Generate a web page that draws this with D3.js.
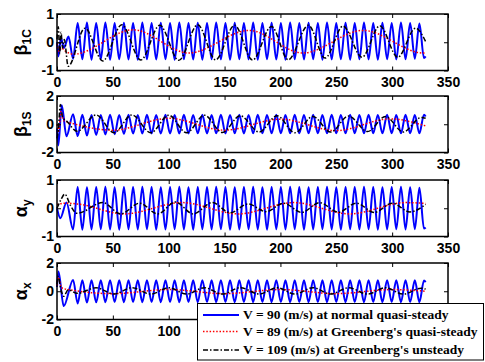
<!DOCTYPE html>
<html>
<head>
<meta charset="utf-8">
<script src="https://cdn.jsdelivr.net/npm/d3@7"></script>
<style>
  body { margin: 0; background: #fff; }
  svg { display: block; }
</style>
</head>
<body>
<script>
// values (time on x)
const xTicks = [0, 50, 100, 150, 200, 250, 300, 350];
const yTicks12 = [-1, 0, 1];
const yTicks2 = [-2, 0, 2];

// extrema times of the fast (blue) oscillation
const blueT = [14.4, 18.5, 22.7, 26.8, 30.9, 35.1, 39.2, 43.3, 47.5, 51.6,
  55.7, 59.9, 64.0, 68.1, 72.3, 76.4, 80.5, 84.7, 88.8, 92.9,
  97.1, 101.2, 105.3, 109.5, 113.6, 117.7, 121.9, 126.0, 130.1, 134.3,
  138.4, 142.5, 146.7, 150.8, 154.9, 159.1, 163.2, 167.3, 171.5, 175.6,
  179.7, 183.9, 188.0, 192.1, 196.3, 200.4, 204.5, 208.7, 212.8, 216.9,
  221.1, 225.2, 229.3, 233.5, 237.6, 241.7, 245.9, 250.0, 254.1, 258.3,
  262.4, 266.5, 270.7, 274.8, 278.9, 283.1, 287.2, 291.3, 295.5, 299.6,
  303.7, 307.9, 312.0, 316.1, 320.3, 324.4, 328.5, 330.0];

// beta 1C
const blueHead1 = [[0, 0.0], [1.2, -0.5], [3.5, 0.15], [6.2, -0.2], [10.3, 0.2]];
const blueV1 = [-0.58, 0.68, -0.60, 0.70, -0.62, 0.68, -0.60, 0.70, -0.62, 0.68,
  -0.60, 0.69, -0.61, 0.68, -0.62, 0.70, -0.60, 0.68, -0.61, 0.69,
  -0.60, 0.68, -0.62, 0.70, -0.60, 0.68, -0.61, 0.69, -0.62, 0.68,
  -0.60, 0.70, -0.61, 0.68, -0.62, 0.69, -0.60, 0.68, -0.61, 0.70,
  -0.62, 0.68, -0.60, 0.69, -0.61, 0.68, -0.62, 0.70, -0.60, 0.68,
  -0.61, 0.69, -0.60, 0.68, -0.62, 0.70, -0.61, 0.68, -0.60, 0.69,
  -0.62, 0.68, -0.60, 0.70, -0.61, 0.68, -0.62, 0.69, -0.60, 0.68,
  -0.61, 0.70, -0.60, 0.68, -0.58, 0.66, -0.56, -0.50];
const red1 = [[0, -0.05], [2, -0.32], [4, -0.2], [7, -0.3], [15, -0.42], [68, 0.44], [118, -0.38],
  [172, 0.42], [220, -0.38], [274, 0.42], [328, -0.38], [330, -0.37]];
const black1 = [[0, 0.1], [1.2, 0.55], [2.4, -0.4], [3.6, 0.35], [5, -0.2], [6.5, 0.1], [10, -0.85],
  [25, 0.5], [41, -0.66], [58, 0.62], [75, -0.63], [92, 0.6], [109, -0.64], [126, 0.62], [142, -0.62],
  [159, 0.6], [175, -0.63], [192, 0.56], [207, -0.62], [225, 0.6], [240, -0.56], [256, 0.57],
  [273, -0.53], [289, 0.58], [305, -0.53], [321, 0.5], [330, 0.02]];

// beta 1S
const blueHead2 = [[0, -0.3], [1.2, -1.5], [4.2, 1.35], [8.5, -0.85]];
const blueV2 = [0.70, -0.84, 0.68, -0.80, 0.66, -0.76, 0.66, -0.72, 0.67, -0.70,
  0.66, -0.68, 0.67, -0.66, 0.66, -0.66, 0.67, -0.65, 0.66, -0.66,
  0.67, -0.65, 0.66, -0.66, 0.67, -0.65, 0.66, -0.64, 0.67, -0.65,
  0.66, -0.64, 0.67, -0.65, 0.66, -0.64, 0.67, -0.65, 0.66, -0.64,
  0.67, -0.63, 0.66, -0.64, 0.67, -0.63, 0.66, -0.64, 0.67, -0.63,
  0.66, -0.64, 0.67, -0.63, 0.66, -0.64, 0.67, -0.63, 0.66, -0.64,
  0.67, -0.63, 0.66, -0.64, 0.67, -0.63, 0.66, -0.64, 0.67, -0.63,
  0.66, -0.64, 0.67, -0.63, 0.66, -0.64, 0.68, 0.55];
const red2 = [[0, 0], [1.5, -0.5], [3.5, 0.9], [6, 0.25], [10, 0.15], [50, -0.42], [100, 0.42],
  [150, -0.42], [200, 0.36], [250, -0.45], [298, 0.38], [330, -0.12]];
const black2 = [[0, -1.0], [1.2, -0.4], [3, 1.4], [5, 0.5], [9, 0.2], [18, -0.5], [35, 0.66], [51, -0.6],
  [67, 0.66], [84, -0.6], [100, 0.64], [116, -0.6], [132, 0.64], [148, -0.58], [164, 0.6], [181, -0.55],
  [197, 0.6], [213, -0.6], [229, 0.55], [245, -0.55], [261, 0.58], [278, -0.52], [294, 0.55],
  [310, -0.55], [326, 0.48], [330, 0.42]];

// alpha y
const blueHead3 = [[0, 0], [3, -0.35], [8.5, 0.2]];
const blueV3 = [-0.75, 0.75, -0.76, 0.74, -0.75, 0.75, -0.74, 0.76, -0.75, 0.74,
  -0.76, 0.75, -0.74, 0.75, -0.75, 0.76, -0.74, 0.75, -0.76, 0.74,
  -0.75, 0.75, -0.74, 0.76, -0.75, 0.74, -0.76, 0.75, -0.74, 0.75,
  -0.75, 0.76, -0.74, 0.75, -0.76, 0.74, -0.75, 0.75, -0.74, 0.76,
  -0.75, 0.74, -0.76, 0.75, -0.74, 0.75, -0.75, 0.76, -0.74, 0.75,
  -0.76, 0.74, -0.75, 0.75, -0.74, 0.76, -0.75, 0.74, -0.76, 0.75,
  -0.74, 0.75, -0.75, 0.76, -0.74, 0.75, -0.76, 0.74, -0.75, 0.75,
  -0.74, 0.76, -0.75, 0.74, -0.74, 0.73, -0.72, -0.68];
const red3 = [[0, 0.13], [8, 0.18], [20, 0.14], [60, -0.2], [112, 0.2], [162, -0.2], [212, 0.2],
  [262, -0.2], [312, 0.2], [330, 0.17]];
const black3 = [[0, 0], [3.5, 0.3], [7, 0.5], [12, 0.1], [18, -0.18], [41, 0.2], [57, -0.2], [74, 0.18],
  [90, -0.2], [106, 0.22], [122, -0.2], [139, 0.2], [155, -0.16], [171, 0.15], [187, -0.12], [203, 0.18],
  [219, -0.15], [235, 0.2], [252, -0.14], [268, 0.18], [284, -0.15], [300, 0.18], [316, -0.13], [330, 0.14]];

// alpha x
const blueHead4 = [[0, 0.3], [1.3, 1.4], [6, -1.05]];
const blueV4 = [0.80, -0.86, 0.78, -0.80, 0.78, -0.78, 0.77, -0.77, 0.78, -0.76,
  0.77, -0.77, 0.78, -0.76, 0.77, -0.77, 0.78, -0.76, 0.77, -0.77,
  0.78, -0.76, 0.77, -0.77, 0.78, -0.76, 0.77, -0.77, 0.78, -0.76,
  0.77, -0.77, 0.78, -0.76, 0.77, -0.77, 0.78, -0.76, 0.77, -0.77,
  0.78, -0.76, 0.77, -0.77, 0.78, -0.76, 0.77, -0.77, 0.78, -0.76,
  0.77, -0.77, 0.78, -0.76, 0.77, -0.77, 0.78, -0.76, 0.77, -0.77,
  0.78, -0.76, 0.77, -0.77, 0.78, -0.76, 0.77, -0.77, 0.78, -0.76,
  0.77, -0.77, 0.78, -0.76, 0.77, -0.77, 0.76, 0.65];
const red4 = [[0, 0.4], [1.2, 1.0], [4, 0.25], [10, 0.12], [50, -0.17], [100, 0.12], [150, -0.17],
  [200, 0.12], [250, -0.17], [300, 0.12], [330, 0.0]];
const black4 = [[0, 0.5], [1.2, 1.05], [3, 0.3], [6, -0.35], [10, 0.1], [18, -0.15], [35, 0.25], [51, -0.2],
  [67, 0.25], [84, -0.2], [100, 0.25], [116, -0.2], [132, 0.25], [148, -0.2], [164, 0.25], [181, -0.2],
  [197, 0.25], [213, -0.2], [229, 0.25], [245, -0.2], [261, 0.25], [278, -0.2], [294, 0.25],
  [310, -0.2], [326, 0.22], [330, 0.15]];

const legendLabels = [
  "V = 90 (m/s) at normal quasi-steady",
  "V = 89 (m/s) at Greenberg's quasi-steady",
  "V = 109 (m/s) at Greenberg's unsteady"
];

const withGrid = (head, vals) => head.concat(blueT.map((t, i) => [t, vals[i]]));

const panels = [
  { sym: "β", sub: "1C", dom: [-1, 1], ticks: yTicks12, blue: withGrid(blueHead1, blueV1), red: red1, black: black1 },
  { sym: "β", sub: "1S", dom: [-2, 2], ticks: yTicks2, blue: withGrid(blueHead2, blueV2), red: red2, black: black2 },
  { sym: "α", sub: "y", dom: [-1, 1], ticks: yTicks12, blue: withGrid(blueHead3, blueV3), red: red3, black: black3 },
  { sym: "α", sub: "x", dom: [-2, 2], ticks: yTicks2, blue: withGrid(blueHead4, blueV4), red: red4, black: black4 }
];

const width = 485, height = 362;
const left = 57, right = 448, ph = 56.5;
const tops = [14, 96, 180, 263];
const legendBox = { x: 197.5, y: 303.5, w: 286, h: 56.5 };

const styles = [
  { key: "blue", color: "#0000ff", w: 2, dash: null },
  { key: "red", color: "#ff0000", w: 1.5, dash: "1.5,1.8" },
  { key: "black", color: "#000000", w: 1.5, dash: "5,2,1.5,2" }
];

const svg = d3.select("body").append("svg")
  .attr("width", width).attr("height", height);

const x = d3.scaleLinear().domain([0, 350]).range([left, right]);
const font = "'Liberation Sans', Arial, sans-serif";

panels.forEach((p, i) => {
  const top = tops[i], bottom = top + ph;
  const y = d3.scaleLinear().domain(p.dom).range([bottom, top]);
  const g = svg.append("g");

  const line = d3.line()
    .x(d => x(d[0]))
    .y(d => y(d[1]))
    .curve(d3.curveMonotoneX);

  styles.forEach(s => {
    g.append("path")
      .datum(p[s.key])
      .attr("d", line)
      .attr("fill", "none")
      .attr("stroke", s.color)
      .attr("stroke-width", s.w)
      .attr("stroke-dasharray", s.dash)
      .attr("stroke-linejoin", "round");
  });

  // box
  g.append("rect")
    .attr("x", left).attr("y", top)
    .attr("width", right - left).attr("height", ph)
    .attr("fill", "none").attr("stroke", "#000").attr("stroke-width", 1.5);

  // the legend hides the last panel's labels from 150 on
  const shown = i === 3 ? xTicks.filter(t => x(t) + 14 < legendBox.x) : xTicks;

  const xb = g.append("g").attr("transform", `translate(0,${bottom})`)
    .call(d3.axisBottom(x).tickValues(xTicks).tickSizeInner(-4).tickSizeOuter(0).tickPadding(7)
      .tickFormat(t => shown.includes(t) ? t : ""));
  const xt = g.append("g").attr("transform", `translate(0,${top})`)
    .call(d3.axisTop(x).tickValues(xTicks).tickSizeInner(-4).tickSizeOuter(0).tickFormat(""));
  const yl = g.append("g").attr("transform", `translate(${left},0)`)
    .call(d3.axisLeft(y).tickValues(p.ticks).tickSizeInner(-4).tickSizeOuter(0).tickPadding(3)
      .tickFormat(d => d < 0 ? "-" + Math.abs(d) : d));
  const yr = g.append("g").attr("transform", `translate(${right},0)`)
    .call(d3.axisRight(y).tickValues(p.ticks).tickSizeInner(-4).tickSizeOuter(0).tickFormat(""));

  [xb, xt, yl, yr].forEach(a => {
    a.select(".domain").remove();
    a.selectAll("line").attr("stroke", "#000").attr("stroke-width", 1);
    a.selectAll("text")
      .attr("fill", "#000")
      .style("font-family", font)
      .style("font-weight", "bold")
      .style("font-size", "14px");
  });
  [xb, xt, yr].forEach(a => a.selectAll("text").filter(function () { return this.textContent === ""; }).remove());

  // y label
  const lab = g.append("text")
    .attr("transform", `translate(27,${(top + bottom) / 2}) rotate(-90)`)
    .attr("text-anchor", "middle")
    .style("font-family", font)
    .style("font-weight", "bold")
    .style("font-size", "18px");
  lab.append("tspan").text(p.sym);
  lab.append("tspan").attr("dy", 4).style("font-size", "12px").text(p.sub);
});

// legend
const lg = svg.append("g");
lg.append("rect")
  .attr("x", legendBox.x).attr("y", legendBox.y)
  .attr("width", legendBox.w).attr("height", legendBox.h)
  .attr("fill", "#fff").attr("stroke", "#000").attr("stroke-width", 1);

const rowY = [315, 331.5, 350];
legendLabels.forEach((lbl, i) => {
  const s = styles[i];
  lg.append("line")
    .attr("x1", 203).attr("x2", 239)
    .attr("y1", rowY[i]).attr("y2", rowY[i])
    .attr("stroke", s.color).attr("stroke-width", s.w)
    .attr("stroke-dasharray", s.dash);
  lg.append("text")
    .attr("x", 243).attr("y", rowY[i] + 4)
    .style("font-family", "'Liberation Serif', 'Times New Roman', serif")
    .style("font-weight", "bold")
    .style("font-size", "13.5px")
    .text(lbl);
});
</script>
</body>
</html>
